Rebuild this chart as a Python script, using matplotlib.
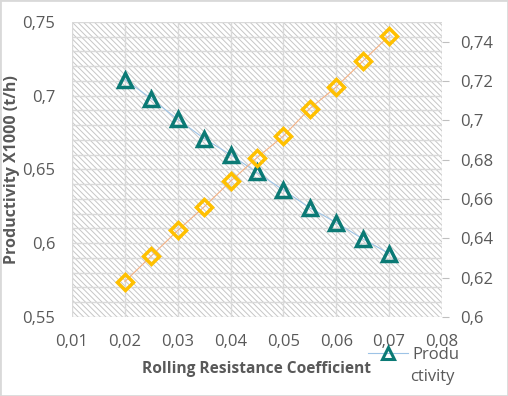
import matplotlib.pyplot as plt
from matplotlib.patches import Rectangle
from matplotlib.ticker import MultipleLocator, FuncFormatter
from matplotlib.lines import Line2D

plt.rcParams['font.family'] = ['Open Sans', 'DejaVu Sans']
plt.rcParams['hatch.linewidth'] = 0.7
plt.rcParams['hatch.color'] = '#c6c6c6'

# data
coef = [0.02, 0.025, 0.03, 0.035, 0.04, 0.045, 0.05, 0.055, 0.06, 0.065, 0.07]
productivity = [0.711, 0.698, 0.684, 0.671, 0.660, 0.648, 0.636, 0.624, 0.614, 0.603, 0.593]
second_series = [0.618, 0.631, 0.644, 0.656, 0.669, 0.681, 0.692, 0.706, 0.717, 0.730, 0.743]

txt = '#595959'


def comma(v, pos):
    s = ('%.2f' % v).rstrip('0')
    if s.endswith('.'):
        s = s[:-1]
    return s.replace('.', ',')


fig = plt.figure(figsize=(5.08, 3.96), dpi=100)
fig.patches.append(Rectangle((0, 0), 1, 1, transform=fig.transFigure,
                             fill=False, edgecolor='#d9d9d9', linewidth=2))
ax = fig.add_axes([0.1417, 0.1995, 0.7283, 0.745])

# hatched plot area
ax.add_patch(Rectangle((0, 0), 1, 1, transform=ax.transAxes, facecolor='white',
                       hatch='\\\\\\\\\\\\', edgecolor='#c6c6c6', linewidth=0, zorder=0))

ax.plot(coef, productivity, color='#9dc3e6', linewidth=0.8, marker='^', markersize=10,
        markerfacecolor='none', markeredgecolor='#0b7a75', markeredgewidth=2.5, zorder=3)

ax.set_xlim(0.01, 0.08)
ax.set_ylim(0.55, 0.75)
ax.xaxis.set_major_locator(MultipleLocator(0.01))
ax.yaxis.set_major_locator(MultipleLocator(0.05))
ax.yaxis.set_minor_locator(MultipleLocator(0.01))
ax.xaxis.set_major_formatter(FuncFormatter(comma))
ax.yaxis.set_major_formatter(FuncFormatter(comma))
ax.grid(True, which='both', color='#d9d9d9', linewidth=1)
ax.set_axisbelow(True)
for s in ax.spines.values():
    s.set_visible(False)
ax.tick_params(axis='x', which='both', length=0, labelsize=12, labelcolor=txt, pad=12)
ax.tick_params(axis='y', which='both', length=0, labelsize=12, labelcolor=txt, pad=12)
ax.set_xlabel('Rolling Resistance Coefficient', fontsize=11.2, fontweight='bold', color=txt, labelpad=8)
ax.set_ylabel('Productivity X1000 (t/h)', fontsize=11.5, fontweight='bold', color=txt, labelpad=2)

ax2 = ax.twinx()
ax2.plot(coef, second_series, color='#f4b183', linewidth=0.8, marker='D', markersize=8,
         markerfacecolor='none', markeredgecolor='#ffc000', markeredgewidth=2.5, zorder=3)
ax2.set_ylim(0.6, 0.75)
ax2.set_yticks([0.6, 0.62, 0.64, 0.66, 0.68, 0.7, 0.72, 0.74])
ax2.yaxis.set_major_formatter(FuncFormatter(comma))
for s in ax2.spines.values():
    s.set_visible(False)
ax2.tick_params(axis='y', length=5, color='#bfbfbf', labelsize=12, labelcolor=txt, pad=8)

# legend: the label wraps in the reference, handle sits on the first line
handle = Line2D([], [], color='#9dc3e6', linewidth=0.8, marker='^', markersize=8,
                markerfacecolor='none', markeredgecolor='#0b7a75', markeredgewidth=2.2)
fig.legend([handle], ['Produ'], loc='center left', bbox_to_anchor=(0.724, 0.103),
           frameon=False, fontsize=12, labelcolor=txt, handlelength=2.4, handletextpad=0.25,
           borderpad=0, borderaxespad=0)
fig.text(0.808, 0.048, 'ctivity', fontsize=12, color=txt, va='center', ha='left')

fig.savefig('out.png', dpi=100)
